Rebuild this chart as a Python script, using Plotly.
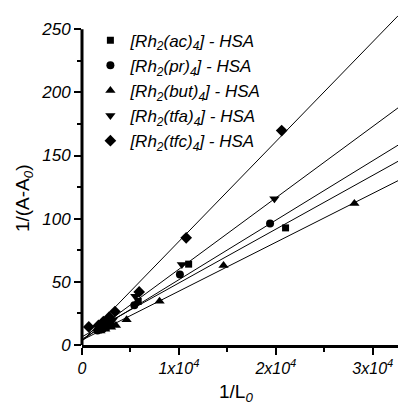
import plotly.graph_objects as go

# ---- data ----
series_names = ["[Rh<sub>2</sub>(ac)<sub>4</sub>] - HSA",
                "[Rh<sub>2</sub>(pr)<sub>4</sub>] - HSA",
                "[Rh<sub>2</sub>(but)<sub>4</sub>] - HSA",
                "[Rh<sub>2</sub>(tfa)<sub>4</sub>] - HSA",
                "[Rh<sub>2</sub>(tfc)<sub>4</sub>] - HSA"]
symbols = ["square", "circle", "triangle-up", "triangle-down", "diamond"]

ac_x = [1700, 2100, 2500, 3000, 5800, 11000, 21000]
ac_y = [12.0, 13.0, 14.5, 16.0, 34.5, 64.0, 92.7]
pr_x = [1600, 2000, 2400, 2900, 5400, 10100, 19400]
pr_y = [11.5, 12.5, 14.0, 16.5, 31.5, 55.8, 96.1]
but_x = [1900, 2400, 3000, 3500, 4600, 8000, 14600, 28100]
but_y = [11.0, 12.5, 14.0, 15.5, 20.0, 34.7, 63.0, 112.0]
tfa_x = [1800, 2200, 2700, 3200, 5500, 10300, 19850]
tfa_y = [13.5, 15.5, 18.0, 20.0, 38.5, 63.7, 115.7]
tfc_x = [700, 1700, 2200, 2800, 3400, 5900, 10750, 20600]
tfc_y = [14.3, 15.5, 18.5, 22.0, 26.5, 42.0, 84.8, 169.7]

# linear fit parameters
fit_intercepts = [6.5, 4.6, 3.9, 3.5, 3.0]
fit_slopes = [0.00426, 0.00471, 0.00387, 0.00565, 0.0079]

x_ticks = [0, 10000, 20000, 30000]
x_ticktext = ["0", "1x10<sup>4</sup>", "2x10<sup>4</sup>", "3x10<sup>4</sup>"]
y_ticks = [0, 50, 100, 150, 200, 250]

X_MAX = 32600
Y_MAX = 262

xs = [ac_x, pr_x, but_x, tfa_x, tfc_x]
ys = [ac_y, pr_y, but_y, tfa_y, tfc_y]

fig = go.Figure()
FONT = "Liberation Sans, Arial, sans-serif"

for i in range(5):
    fig.add_trace(go.Scatter(
        x=[0, X_MAX],
        y=[fit_intercepts[i], fit_intercepts[i] + fit_slopes[i] * X_MAX],
        mode="lines", line=dict(color="black", width=1),
        showlegend=False, hoverinfo="skip"))

marker_sizes = [7, 8, 9, 9, 9]
for i in range(5):
    fig.add_trace(go.Scatter(
        x=xs[i], y=ys[i], mode="markers",
        name="<i>" + series_names[i] + "</i>",
        marker=dict(symbol=symbols[i], size=marker_sizes[i], color="black",
                    line=dict(width=0))))

L, R, T, B = 81.6, 3, 14.3, 62.5
W, H = 401, 408
pw, ph = W - L - R, H - T - B


def px2paper(px, py):
    return (px - L) / pw, (H - B - py) / ph


fig.update_layout(
    width=W, height=H,
    margin=dict(l=L, r=R, t=T, b=B, autoexpand=False),
    paper_bgcolor="white", plot_bgcolor="white",
    font=dict(family=FONT, color="black"),
    showlegend=True,
    legend=dict(x=px2paper(90, 0)[0], y=px2paper(0, 23)[1],
                xanchor="left", yanchor="top",
                bgcolor="rgba(0,0,0,0)",
                font=dict(family=FONT, size=17, color="black"),
                itemsizing="trace", tracegroupgap=0),
    xaxis=dict(range=[0, X_MAX], showgrid=False, zeroline=False,
               showline=True, linecolor="black", linewidth=3,
               ticks="outside", ticklen=7, tickwidth=2, tickcolor="black",
               tickvals=x_ticks, ticktext=["<i>" + t + "</i>" for t in x_ticktext],
               tickfont=dict(family=FONT, size=16, color="black"),
               minor=dict(ticks="outside", ticklen=4, tickwidth=2,
                          tickcolor="black", dtick=5000, tick0=0)),
    yaxis=dict(range=[0, Y_MAX], showgrid=False, zeroline=False,
               showline=False,
               ticks="outside", ticklen=7, tickwidth=2, tickcolor="black",
               tickvals=y_ticks, ticktext=["<i>%d</i>" % v for v in y_ticks],
               tickfont=dict(family=FONT, size=17, color="black"),
               minor=dict(ticks="outside", ticklen=4, tickwidth=2,
                          tickcolor="black", dtick=25, tick0=0)),
)

# y axis line only up to 250
fig.add_shape(type="line", xref="paper", yref="y", x0=0, x1=0,
              y0=-4, y1=250, line=dict(color="black", width=3), layer="above")

yt = px2paper(23, 198)
fig.add_annotation(text="1/(A-A<sub><i>0</i></sub>)", xref="paper", yref="paper",
                   x=yt[0], y=yt[1], xanchor="center", yanchor="middle",
                   textangle=-90, showarrow=False,
                   font=dict(family=FONT, size=19, color="black"))
xt = px2paper(236, 394)
fig.add_annotation(text="1/L<sub><i>0</i></sub>", xref="paper", yref="paper",
                   x=xt[0], y=xt[1], xanchor="center", yanchor="middle",
                   showarrow=False,
                   font=dict(family=FONT, size=19, color="black"))

fig.write_html("out.html", config={"displayModeBar": False},
               post_script="document.body.style.margin='0px';document.body.style.overflow='hidden';")
